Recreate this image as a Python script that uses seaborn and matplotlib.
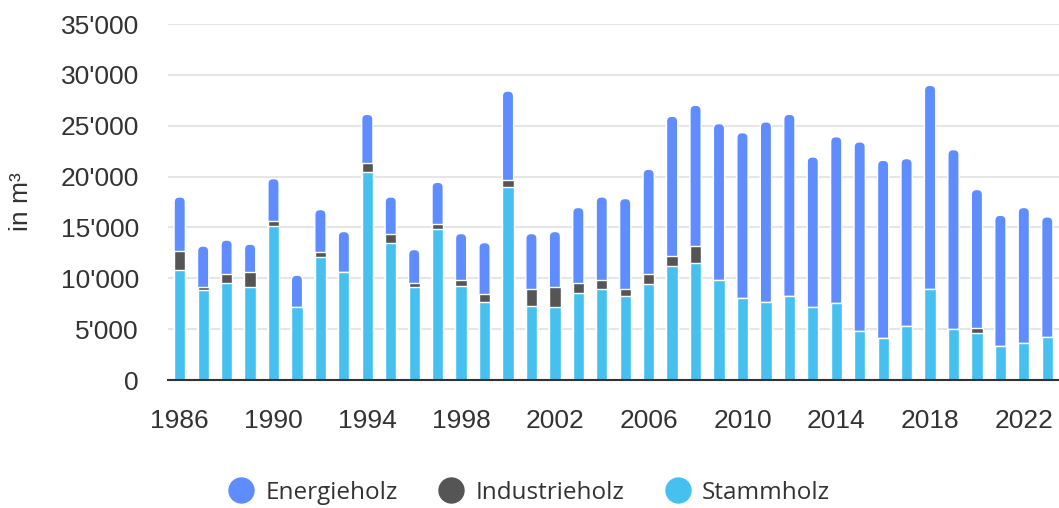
import matplotlib
matplotlib.use("Agg")
import matplotlib.pyplot as plt
import seaborn as sns
import pandas as pd
from matplotlib.patches import FancyBboxPatch
from matplotlib.lines import Line2D
from matplotlib.ticker import FuncFormatter

years = list(range(1986, 2024))
stammholz = [10800, 8840, 9490, 9160, 15120, 7200, 12050, 10600, 20460, 13490,
             9100, 14860, 9260, 7630, 18990, 7300, 7130, 8570, 8940, 8220,
             9460, 11220, 11460, 9820, 8050, 7690, 8220, 7130, 7560, 4810,
             4090, 5330, 8940, 4980, 4650, 3340, 3660, 4250]
industrieholz = [1900, 300, 900, 1440, 520, 0, 520, 0, 880, 850,
                 390, 520, 560, 780, 710, 1600, 1970, 920, 940, 720,
                 920, 990, 1730, 0, 0, 0, 0, 0, 0, 0,
                 0, 0, 0, 0, 490, 0, 0, 0]
energieholz = [5300, 4030, 3370, 2760, 4160, 3110, 4190, 4000, 4780, 3660,
               3340, 4060, 4580, 5100, 8710, 5500, 5500, 7470, 8120, 8900,
               10340, 13720, 13820, 15390, 16270, 17690, 17900, 14800, 16360, 18600,
               17510, 16440, 20030, 17670, 13590, 12860, 13300, 11790]
tick_years = [1986, 1990, 1994, 1998, 2002, 2006, 2010, 2014, 2018, 2022]

C_E = "#5f8dff"
C_I = "#555555"
C_S = "#46c1ef"

sns.set_theme(style="white")
plt.rcParams['font.family'] = ['Liberation Sans', 'DejaVu Sans']

df = pd.DataFrame({"Jahr": [str(y) for y in years],
                   "Stammholz": stammholz,
                   "Industrieholz": industrieholz,
                   "Energieholz": energieholz})
df["top_ind"] = df["Stammholz"] + df["Industrieholz"]
df["top_all"] = df["top_ind"] + df["Energieholz"]

W, H = 1059, 508
fig = plt.figure(figsize=(W / 100, H / 100), dpi=100)
ax_l, ax_r, ax_t, ax_b = 168, 1059, 24, 380
ax = fig.add_axes([ax_l / W, 1 - ax_b / H, (ax_r - ax_l) / W, (ax_b - ax_t) / H])

bw = 0.48
sns.barplot(data=df, x="Jahr", y="top_all", color=C_E, saturation=1, width=bw,
            errorbar=None, edgecolor="white", linewidth=1, ax=ax, zorder=2)
ax.set_xlim(-0.5, len(years) - 0.5)
ax.set_ylim(0, 35000)

# rounded tops for the outer bars
px_x = (ax_r - ax_l) / len(years)
px_y = (ax_b - ax_t) / 35000
aspect = px_x / px_y
for p in list(ax.patches):
    x, y, w, h = p.get_x(), p.get_y(), p.get_width(), p.get_height()
    p.remove()
    fb = FancyBboxPatch((x, y), w, h,
                        boxstyle=f"round,pad=0,rounding_size={w * 0.45}",
                        mutation_aspect=aspect, facecolor=C_E,
                        edgecolor="white", linewidth=1, zorder=2)
    ax.add_patch(fb)

sns.barplot(data=df, x="Jahr", y="top_ind", color=C_I, saturation=1, width=bw,
            errorbar=None, edgecolor="white", linewidth=1, ax=ax, zorder=3)
sns.barplot(data=df, x="Jahr", y="Stammholz", color=C_S, saturation=1, width=bw,
            errorbar=None, edgecolor="white", linewidth=1, ax=ax, zorder=4)

ax.set_xlim(-0.5, len(years) - 0.5)
ax.set_ylim(0, 35000)
ax.set_yticks(range(0, 35001, 5000))
ax.yaxis.set_major_formatter(FuncFormatter(lambda v, _: f"{int(v):,}".replace(",", "'")))
ax.set_xticks([years.index(y) for y in tick_years])
ax.set_xticklabels([str(y) for y in tick_years])
ax.tick_params(axis="both", length=0, labelsize=19, labelcolor="#333333")
ax.tick_params(axis="y", pad=21)
ax.tick_params(axis="x", pad=21)
ax.set_xlabel("")
ax.set_ylabel("in m³", fontsize=19, color="#333333")
ax.yaxis.set_label_coords((33 - ax_l) / (ax_r - ax_l), 0.5)

ax.yaxis.grid(True, color="#e6e6e6", linewidth=1.5)
ax.xaxis.grid(False)
ax.set_axisbelow(True)
for s in ["top", "right", "left"]:
    ax.spines[s].set_visible(False)
ax.spines["bottom"].set_color("#333333")
ax.spines["bottom"].set_linewidth(1.5)
ax.spines["bottom"].set_zorder(5)

handles = [Line2D([], [], marker="o", linestyle="", markersize=18,
                  markerfacecolor=c, markeredgecolor=c)
           for c in (C_E, C_I, C_S)]
fig.legend(handles, ["Energieholz", "Industrieholz", "Stammholz"],
           loc="center", bbox_to_anchor=(0.5, 1 - 493 / H), ncol=3,
           frameon=False, handlelength=1.0, handletextpad=0.5,
           columnspacing=1.7, prop={"family": ["Open Sans", "DejaVu Sans"], "size": 17.5},
           labelcolor="#333333")

fig.savefig("out.png", dpi=100)
